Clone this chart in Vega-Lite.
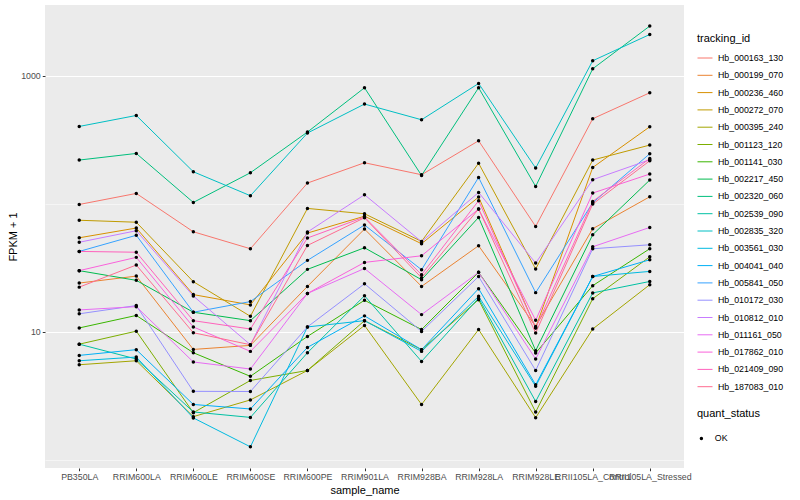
{
  "$schema": "https://vega.github.io/schema/vega-lite/v6.json",
  "width": 639,
  "height": 463,
  "autosize": {"type": "none"},
  "padding": {"left": 45, "top": 5, "right": 116, "bottom": 32},
  "background": "white",
  "config": {
    "view": {"fill": "#EBEBEB", "stroke": null},
    "font": "Liberation Sans",
    "axis": {
      "domain": false,
      "gridColor": "white",
      "tickColor": "#333333",
      "tickSize": 2.75,
      "labelColor": "#4D4D4D",
      "labelFontSize": 8.8,
      "labelPadding": 2,
      "titleFontSize": 11,
      "titleFontWeight": "normal",
      "titleColor": "black"
    },
    "legend": {
      "titleFontSize": 11,
      "titleFontWeight": "normal",
      "titleColor": "black",
      "labelFontSize": 8.8,
      "labelColor": "black"
    }
  },
  "data": {
    "values": [
      {"tracking_id":"Hb_000163_130","sample_name":"PB350LA","fpkm":98.7,"quant_status":"OK"},
      {"tracking_id":"Hb_000163_130","sample_name":"RRIM600LA","fpkm":120.4,"quant_status":"OK"},
      {"tracking_id":"Hb_000163_130","sample_name":"RRIM600LE","fpkm":60.4,"quant_status":"OK"},
      {"tracking_id":"Hb_000163_130","sample_name":"RRIM600SE","fpkm":44.5,"quant_status":"OK"},
      {"tracking_id":"Hb_000163_130","sample_name":"RRIM600PE","fpkm":145.1,"quant_status":"OK"},
      {"tracking_id":"Hb_000163_130","sample_name":"RRIM901LA","fpkm":209.1,"quant_status":"OK"},
      {"tracking_id":"Hb_000163_130","sample_name":"RRIM928BA","fpkm":168.5,"quant_status":"OK"},
      {"tracking_id":"Hb_000163_130","sample_name":"RRIM928LA","fpkm":310.6,"quant_status":"OK"},
      {"tracking_id":"Hb_000163_130","sample_name":"RRIM928LE","fpkm":66.5,"quant_status":"OK"},
      {"tracking_id":"Hb_000163_130","sample_name":"RRII105LA_Control","fpkm":461.5,"quant_status":"OK"},
      {"tracking_id":"Hb_000163_130","sample_name":"RRII105LA_Stressed","fpkm":736.4,"quant_status":"OK"},

      {"tracking_id":"Hb_000199_070","sample_name":"PB350LA","fpkm":24.0,"quant_status":"OK"},
      {"tracking_id":"Hb_000199_070","sample_name":"RRIM600LA","fpkm":27.2,"quant_status":"OK"},
      {"tracking_id":"Hb_000199_070","sample_name":"RRIM600LE","fpkm":7.27,"quant_status":"OK"},
      {"tracking_id":"Hb_000199_070","sample_name":"RRIM600SE","fpkm":7.82,"quant_status":"OK"},
      {"tracking_id":"Hb_000199_070","sample_name":"RRIM600PE","fpkm":22.6,"quant_status":"OK"},
      {"tracking_id":"Hb_000199_070","sample_name":"RRIM901LA","fpkm":63.4,"quant_status":"OK"},
      {"tracking_id":"Hb_000199_070","sample_name":"RRIM928BA","fpkm":22.6,"quant_status":"OK"},
      {"tracking_id":"Hb_000199_070","sample_name":"RRIM928LA","fpkm":47.0,"quant_status":"OK"},
      {"tracking_id":"Hb_000199_070","sample_name":"RRIM928LE","fpkm":11.0,"quant_status":"OK"},
      {"tracking_id":"Hb_000199_070","sample_name":"RRII105LA_Control","fpkm":63.8,"quant_status":"OK"},
      {"tracking_id":"Hb_000199_070","sample_name":"RRII105LA_Stressed","fpkm":113.4,"quant_status":"OK"},

      {"tracking_id":"Hb_000236_460","sample_name":"PB350LA","fpkm":54.2,"quant_status":"OK"},
      {"tracking_id":"Hb_000236_460","sample_name":"RRIM600LA","fpkm":64.6,"quant_status":"OK"},
      {"tracking_id":"Hb_000236_460","sample_name":"RRIM600LE","fpkm":19.5,"quant_status":"OK"},
      {"tracking_id":"Hb_000236_460","sample_name":"RRIM600SE","fpkm":16.2,"quant_status":"OK"},
      {"tracking_id":"Hb_000236_460","sample_name":"RRIM600PE","fpkm":59.0,"quant_status":"OK"},
      {"tracking_id":"Hb_000236_460","sample_name":"RRIM901LA","fpkm":79.9,"quant_status":"OK"},
      {"tracking_id":"Hb_000236_460","sample_name":"RRIM928BA","fpkm":48.7,"quant_status":"OK"},
      {"tracking_id":"Hb_000236_460","sample_name":"RRIM928LA","fpkm":112.8,"quant_status":"OK"},
      {"tracking_id":"Hb_000236_460","sample_name":"RRIM928LE","fpkm":10.75,"quant_status":"OK"},
      {"tracking_id":"Hb_000236_460","sample_name":"RRII105LA_Control","fpkm":192.1,"quant_status":"OK"},
      {"tracking_id":"Hb_000236_460","sample_name":"RRII105LA_Stressed","fpkm":399.6,"quant_status":"OK"},

      {"tracking_id":"Hb_000272_070","sample_name":"PB350LA","fpkm":74.3,"quant_status":"OK"},
      {"tracking_id":"Hb_000272_070","sample_name":"RRIM600LA","fpkm":71.7,"quant_status":"OK"},
      {"tracking_id":"Hb_000272_070","sample_name":"RRIM600LE","fpkm":24.6,"quant_status":"OK"},
      {"tracking_id":"Hb_000272_070","sample_name":"RRIM600SE","fpkm":13.2,"quant_status":"OK"},
      {"tracking_id":"Hb_000272_070","sample_name":"RRIM600PE","fpkm":91.9,"quant_status":"OK"},
      {"tracking_id":"Hb_000272_070","sample_name":"RRIM901LA","fpkm":83.5,"quant_status":"OK"},
      {"tracking_id":"Hb_000272_070","sample_name":"RRIM928BA","fpkm":50.8,"quant_status":"OK"},
      {"tracking_id":"Hb_000272_070","sample_name":"RRIM928LA","fpkm":207.2,"quant_status":"OK"},
      {"tracking_id":"Hb_000272_070","sample_name":"RRIM928LE","fpkm":30.9,"quant_status":"OK"},
      {"tracking_id":"Hb_000272_070","sample_name":"RRII105LA_Control","fpkm":219.5,"quant_status":"OK"},
      {"tracking_id":"Hb_000272_070","sample_name":"RRII105LA_Stressed","fpkm":287.4,"quant_status":"OK"},

      {"tracking_id":"Hb_000395_240","sample_name":"PB350LA","fpkm":5.52,"quant_status":"OK"},
      {"tracking_id":"Hb_000395_240","sample_name":"RRIM600LA","fpkm":5.93,"quant_status":"OK"},
      {"tracking_id":"Hb_000395_240","sample_name":"RRIM600LE","fpkm":2.17,"quant_status":"OK"},
      {"tracking_id":"Hb_000395_240","sample_name":"RRIM600SE","fpkm":2.93,"quant_status":"OK"},
      {"tracking_id":"Hb_000395_240","sample_name":"RRIM600PE","fpkm":4.98,"quant_status":"OK"},
      {"tracking_id":"Hb_000395_240","sample_name":"RRIM901LA","fpkm":11.2,"quant_status":"OK"},
      {"tracking_id":"Hb_000395_240","sample_name":"RRIM928BA","fpkm":2.70,"quant_status":"OK"},
      {"tracking_id":"Hb_000395_240","sample_name":"RRIM928LA","fpkm":10.4,"quant_status":"OK"},
      {"tracking_id":"Hb_000395_240","sample_name":"RRIM928LE","fpkm":2.13,"quant_status":"OK"},
      {"tracking_id":"Hb_000395_240","sample_name":"RRII105LA_Control","fpkm":10.5,"quant_status":"OK"},
      {"tracking_id":"Hb_000395_240","sample_name":"RRII105LA_Stressed","fpkm":23.3,"quant_status":"OK"},

      {"tracking_id":"Hb_001123_120","sample_name":"PB350LA","fpkm":7.99,"quant_status":"OK"},
      {"tracking_id":"Hb_001123_120","sample_name":"RRIM600LA","fpkm":10.1,"quant_status":"OK"},
      {"tracking_id":"Hb_001123_120","sample_name":"RRIM600LE","fpkm":2.33,"quant_status":"OK"},
      {"tracking_id":"Hb_001123_120","sample_name":"RRIM600SE","fpkm":4.16,"quant_status":"OK"},
      {"tracking_id":"Hb_001123_120","sample_name":"RRIM600PE","fpkm":4.98,"quant_status":"OK"},
      {"tracking_id":"Hb_001123_120","sample_name":"RRIM901LA","fpkm":12.2,"quant_status":"OK"},
      {"tracking_id":"Hb_001123_120","sample_name":"RRIM928BA","fpkm":7.24,"quant_status":"OK"},
      {"tracking_id":"Hb_001123_120","sample_name":"RRIM928LA","fpkm":17.8,"quant_status":"OK"},
      {"tracking_id":"Hb_001123_120","sample_name":"RRIM928LE","fpkm":2.36,"quant_status":"OK"},
      {"tracking_id":"Hb_001123_120","sample_name":"RRII105LA_Control","fpkm":18.1,"quant_status":"OK"},
      {"tracking_id":"Hb_001123_120","sample_name":"RRII105LA_Stressed","fpkm":38.5,"quant_status":"OK"},

      {"tracking_id":"Hb_001141_030","sample_name":"PB350LA","fpkm":10.7,"quant_status":"OK"},
      {"tracking_id":"Hb_001141_030","sample_name":"RRIM600LA","fpkm":13.4,"quant_status":"OK"},
      {"tracking_id":"Hb_001141_030","sample_name":"RRIM600LE","fpkm":6.85,"quant_status":"OK"},
      {"tracking_id":"Hb_001141_030","sample_name":"RRIM600SE","fpkm":4.48,"quant_status":"OK"},
      {"tracking_id":"Hb_001141_030","sample_name":"RRIM600PE","fpkm":9.19,"quant_status":"OK"},
      {"tracking_id":"Hb_001141_030","sample_name":"RRIM901LA","fpkm":17.6,"quant_status":"OK"},
      {"tracking_id":"Hb_001141_030","sample_name":"RRIM928BA","fpkm":10.4,"quant_status":"OK"},
      {"tracking_id":"Hb_001141_030","sample_name":"RRIM928LA","fpkm":29.1,"quant_status":"OK"},
      {"tracking_id":"Hb_001141_030","sample_name":"RRIM928LE","fpkm":6.82,"quant_status":"OK"},
      {"tracking_id":"Hb_001141_030","sample_name":"RRII105LA_Control","fpkm":22.9,"quant_status":"OK"},
      {"tracking_id":"Hb_001141_030","sample_name":"RRII105LA_Stressed","fpkm":44.5,"quant_status":"OK"},

      {"tracking_id":"Hb_002217_450","sample_name":"PB350LA","fpkm":30.0,"quant_status":"OK"},
      {"tracking_id":"Hb_002217_450","sample_name":"RRIM600LA","fpkm":25.2,"quant_status":"OK"},
      {"tracking_id":"Hb_002217_450","sample_name":"RRIM600LE","fpkm":14.2,"quant_status":"OK"},
      {"tracking_id":"Hb_002217_450","sample_name":"RRIM600SE","fpkm":12.2,"quant_status":"OK"},
      {"tracking_id":"Hb_002217_450","sample_name":"RRIM600PE","fpkm":30.7,"quant_status":"OK"},
      {"tracking_id":"Hb_002217_450","sample_name":"RRIM901LA","fpkm":45.3,"quant_status":"OK"},
      {"tracking_id":"Hb_002217_450","sample_name":"RRIM928BA","fpkm":25.5,"quant_status":"OK"},
      {"tracking_id":"Hb_002217_450","sample_name":"RRIM928LA","fpkm":78.2,"quant_status":"OK"},
      {"tracking_id":"Hb_002217_450","sample_name":"RRIM928LE","fpkm":7.11,"quant_status":"OK"},
      {"tracking_id":"Hb_002217_450","sample_name":"RRII105LA_Control","fpkm":57.3,"quant_status":"OK"},
      {"tracking_id":"Hb_002217_450","sample_name":"RRII105LA_Stressed","fpkm":153.2,"quant_status":"OK"},

      {"tracking_id":"Hb_002320_060","sample_name":"PB350LA","fpkm":219.5,"quant_status":"OK"},
      {"tracking_id":"Hb_002320_060","sample_name":"RRIM600LA","fpkm":247.2,"quant_status":"OK"},
      {"tracking_id":"Hb_002320_060","sample_name":"RRIM600LE","fpkm":102.4,"quant_status":"OK"},
      {"tracking_id":"Hb_002320_060","sample_name":"RRIM600SE","fpkm":174.7,"quant_status":"OK"},
      {"tracking_id":"Hb_002320_060","sample_name":"RRIM600PE","fpkm":363.3,"quant_status":"OK"},
      {"tracking_id":"Hb_002320_060","sample_name":"RRIM901LA","fpkm":805.8,"quant_status":"OK"},
      {"tracking_id":"Hb_002320_060","sample_name":"RRIM928BA","fpkm":166.4,"quant_status":"OK"},
      {"tracking_id":"Hb_002320_060","sample_name":"RRIM928LA","fpkm":805.8,"quant_status":"OK"},
      {"tracking_id":"Hb_002320_060","sample_name":"RRIM928LE","fpkm":136.5,"quant_status":"OK"},
      {"tracking_id":"Hb_002320_060","sample_name":"RRII105LA_Control","fpkm":1134,"quant_status":"OK"},
      {"tracking_id":"Hb_002320_060","sample_name":"RRII105LA_Stressed","fpkm":2446,"quant_status":"OK"},

      {"tracking_id":"Hb_002539_090","sample_name":"PB350LA","fpkm":7.99,"quant_status":"OK"},
      {"tracking_id":"Hb_002539_090","sample_name":"RRIM600LA","fpkm":6.12,"quant_status":"OK"},
      {"tracking_id":"Hb_002539_090","sample_name":"RRIM600LE","fpkm":2.36,"quant_status":"OK"},
      {"tracking_id":"Hb_002539_090","sample_name":"RRIM600SE","fpkm":2.14,"quant_status":"OK"},
      {"tracking_id":"Hb_002539_090","sample_name":"RRIM600PE","fpkm":6.85,"quant_status":"OK"},
      {"tracking_id":"Hb_002539_090","sample_name":"RRIM901LA","fpkm":19.1,"quant_status":"OK"},
      {"tracking_id":"Hb_002539_090","sample_name":"RRIM928BA","fpkm":5.86,"quant_status":"OK"},
      {"tracking_id":"Hb_002539_090","sample_name":"RRIM928LA","fpkm":18.3,"quant_status":"OK"},
      {"tracking_id":"Hb_002539_090","sample_name":"RRIM928LE","fpkm":2.85,"quant_status":"OK"},
      {"tracking_id":"Hb_002539_090","sample_name":"RRII105LA_Control","fpkm":20.1,"quant_status":"OK"},
      {"tracking_id":"Hb_002539_090","sample_name":"RRII105LA_Stressed","fpkm":24.7,"quant_status":"OK"},

      {"tracking_id":"Hb_002835_320","sample_name":"PB350LA","fpkm":401.8,"quant_status":"OK"},
      {"tracking_id":"Hb_002835_320","sample_name":"RRIM600LA","fpkm":489.6,"quant_status":"OK"},
      {"tracking_id":"Hb_002835_320","sample_name":"RRIM600LE","fpkm":177.8,"quant_status":"OK"},
      {"tracking_id":"Hb_002835_320","sample_name":"RRIM600SE","fpkm":115.5,"quant_status":"OK"},
      {"tracking_id":"Hb_002835_320","sample_name":"RRIM600PE","fpkm":356.8,"quant_status":"OK"},
      {"tracking_id":"Hb_002835_320","sample_name":"RRIM901LA","fpkm":601.1,"quant_status":"OK"},
      {"tracking_id":"Hb_002835_320","sample_name":"RRIM928BA","fpkm":453.2,"quant_status":"OK"},
      {"tracking_id":"Hb_002835_320","sample_name":"RRIM928LA","fpkm":870.6,"quant_status":"OK"},
      {"tracking_id":"Hb_002835_320","sample_name":"RRIM928LE","fpkm":190.1,"quant_status":"OK"},
      {"tracking_id":"Hb_002835_320","sample_name":"RRII105LA_Control","fpkm":1310,"quant_status":"OK"},
      {"tracking_id":"Hb_002835_320","sample_name":"RRII105LA_Stressed","fpkm":2102,"quant_status":"OK"},

      {"tracking_id":"Hb_003561_030","sample_name":"PB350LA","fpkm":5.93,"quant_status":"OK"},
      {"tracking_id":"Hb_003561_030","sample_name":"RRIM600LA","fpkm":6.34,"quant_status":"OK"},
      {"tracking_id":"Hb_003561_030","sample_name":"RRIM600LE","fpkm":2.12,"quant_status":"OK"},
      {"tracking_id":"Hb_003561_030","sample_name":"RRIM600SE","fpkm":1.26,"quant_status":"OK"},
      {"tracking_id":"Hb_003561_030","sample_name":"RRIM600PE","fpkm":10.9,"quant_status":"OK"},
      {"tracking_id":"Hb_003561_030","sample_name":"RRIM901LA","fpkm":12.2,"quant_status":"OK"},
      {"tracking_id":"Hb_003561_030","sample_name":"RRIM928BA","fpkm":7.02,"quant_status":"OK"},
      {"tracking_id":"Hb_003561_030","sample_name":"RRIM928LA","fpkm":18.9,"quant_status":"OK"},
      {"tracking_id":"Hb_003561_030","sample_name":"RRIM928LE","fpkm":3.74,"quant_status":"OK"},
      {"tracking_id":"Hb_003561_030","sample_name":"RRII105LA_Control","fpkm":27.0,"quant_status":"OK"},
      {"tracking_id":"Hb_003561_030","sample_name":"RRII105LA_Stressed","fpkm":29.6,"quant_status":"OK"},

      {"tracking_id":"Hb_004041_040","sample_name":"PB350LA","fpkm":6.53,"quant_status":"OK"},
      {"tracking_id":"Hb_004041_040","sample_name":"RRIM600LA","fpkm":7.24,"quant_status":"OK"},
      {"tracking_id":"Hb_004041_040","sample_name":"RRIM600LE","fpkm":2.70,"quant_status":"OK"},
      {"tracking_id":"Hb_004041_040","sample_name":"RRIM600SE","fpkm":2.49,"quant_status":"OK"},
      {"tracking_id":"Hb_004041_040","sample_name":"RRIM600PE","fpkm":7.54,"quant_status":"OK"},
      {"tracking_id":"Hb_004041_040","sample_name":"RRIM901LA","fpkm":13.3,"quant_status":"OK"},
      {"tracking_id":"Hb_004041_040","sample_name":"RRIM928BA","fpkm":7.24,"quant_status":"OK"},
      {"tracking_id":"Hb_004041_040","sample_name":"RRIM928LA","fpkm":21.7,"quant_status":"OK"},
      {"tracking_id":"Hb_004041_040","sample_name":"RRIM928LE","fpkm":3.85,"quant_status":"OK"},
      {"tracking_id":"Hb_004041_040","sample_name":"RRII105LA_Control","fpkm":27.0,"quant_status":"OK"},
      {"tracking_id":"Hb_004041_040","sample_name":"RRII105LA_Stressed","fpkm":36.5,"quant_status":"OK"},

      {"tracking_id":"Hb_005841_050","sample_name":"PB350LA","fpkm":42.4,"quant_status":"OK"},
      {"tracking_id":"Hb_005841_050","sample_name":"RRIM600LA","fpkm":56.7,"quant_status":"OK"},
      {"tracking_id":"Hb_005841_050","sample_name":"RRIM600LE","fpkm":14.2,"quant_status":"OK"},
      {"tracking_id":"Hb_005841_050","sample_name":"RRIM600SE","fpkm":17.2,"quant_status":"OK"},
      {"tracking_id":"Hb_005841_050","sample_name":"RRIM600PE","fpkm":36.1,"quant_status":"OK"},
      {"tracking_id":"Hb_005841_050","sample_name":"RRIM901LA","fpkm":68.2,"quant_status":"OK"},
      {"tracking_id":"Hb_005841_050","sample_name":"RRIM928BA","fpkm":30.5,"quant_status":"OK"},
      {"tracking_id":"Hb_005841_050","sample_name":"RRIM928LA","fpkm":160.5,"quant_status":"OK"},
      {"tracking_id":"Hb_005841_050","sample_name":"RRIM928LE","fpkm":20.2,"quant_status":"OK"},
      {"tracking_id":"Hb_005841_050","sample_name":"RRII105LA_Control","fpkm":101.8,"quant_status":"OK"},
      {"tracking_id":"Hb_005841_050","sample_name":"RRII105LA_Stressed","fpkm":245.9,"quant_status":"OK"},

      {"tracking_id":"Hb_010172_030","sample_name":"PB350LA","fpkm":13.8,"quant_status":"OK"},
      {"tracking_id":"Hb_010172_030","sample_name":"RRIM600LA","fpkm":16.0,"quant_status":"OK"},
      {"tracking_id":"Hb_010172_030","sample_name":"RRIM600LE","fpkm":3.42,"quant_status":"OK"},
      {"tracking_id":"Hb_010172_030","sample_name":"RRIM600SE","fpkm":3.41,"quant_status":"OK"},
      {"tracking_id":"Hb_010172_030","sample_name":"RRIM600PE","fpkm":10.9,"quant_status":"OK"},
      {"tracking_id":"Hb_010172_030","sample_name":"RRIM901LA","fpkm":23.7,"quant_status":"OK"},
      {"tracking_id":"Hb_010172_030","sample_name":"RRIM928BA","fpkm":10.05,"quant_status":"OK"},
      {"tracking_id":"Hb_010172_030","sample_name":"RRIM928LA","fpkm":27.0,"quant_status":"OK"},
      {"tracking_id":"Hb_010172_030","sample_name":"RRIM928LE","fpkm":4.98,"quant_status":"OK"},
      {"tracking_id":"Hb_010172_030","sample_name":"RRII105LA_Control","fpkm":44.5,"quant_status":"OK"},
      {"tracking_id":"Hb_010172_030","sample_name":"RRII105LA_Stressed","fpkm":47.8,"quant_status":"OK"},

      {"tracking_id":"Hb_010812_010","sample_name":"PB350LA","fpkm":50.0,"quant_status":"OK"},
      {"tracking_id":"Hb_010812_010","sample_name":"RRIM600LA","fpkm":61.5,"quant_status":"OK"},
      {"tracking_id":"Hb_010812_010","sample_name":"RRIM600LE","fpkm":19.0,"quant_status":"OK"},
      {"tracking_id":"Hb_010812_010","sample_name":"RRIM600SE","fpkm":7.91,"quant_status":"OK"},
      {"tracking_id":"Hb_010812_010","sample_name":"RRIM600PE","fpkm":60.1,"quant_status":"OK"},
      {"tracking_id":"Hb_010812_010","sample_name":"RRIM901LA","fpkm":117.6,"quant_status":"OK"},
      {"tracking_id":"Hb_010812_010","sample_name":"RRIM928BA","fpkm":50.5,"quant_status":"OK"},
      {"tracking_id":"Hb_010812_010","sample_name":"RRIM928LA","fpkm":122.6,"quant_status":"OK"},
      {"tracking_id":"Hb_010812_010","sample_name":"RRIM928LE","fpkm":34.4,"quant_status":"OK"},
      {"tracking_id":"Hb_010812_010","sample_name":"RRII105LA_Control","fpkm":154.0,"quant_status":"OK"},
      {"tracking_id":"Hb_010812_010","sample_name":"RRII105LA_Stressed","fpkm":220.7,"quant_status":"OK"},

      {"tracking_id":"Hb_011161_050","sample_name":"PB350LA","fpkm":14.8,"quant_status":"OK"},
      {"tracking_id":"Hb_011161_050","sample_name":"RRIM600LA","fpkm":15.7,"quant_status":"OK"},
      {"tracking_id":"Hb_011161_050","sample_name":"RRIM600LE","fpkm":5.80,"quant_status":"OK"},
      {"tracking_id":"Hb_011161_050","sample_name":"RRIM600SE","fpkm":5.11,"quant_status":"OK"},
      {"tracking_id":"Hb_011161_050","sample_name":"RRIM600PE","fpkm":19.9,"quant_status":"OK"},
      {"tracking_id":"Hb_011161_050","sample_name":"RRIM901LA","fpkm":31.2,"quant_status":"OK"},
      {"tracking_id":"Hb_011161_050","sample_name":"RRIM928BA","fpkm":13.6,"quant_status":"OK"},
      {"tracking_id":"Hb_011161_050","sample_name":"RRIM928LA","fpkm":29.1,"quant_status":"OK"},
      {"tracking_id":"Hb_011161_050","sample_name":"RRIM928LE","fpkm":6.12,"quant_status":"OK"},
      {"tracking_id":"Hb_011161_050","sample_name":"RRII105LA_Control","fpkm":46.1,"quant_status":"OK"},
      {"tracking_id":"Hb_011161_050","sample_name":"RRII105LA_Stressed","fpkm":65.3,"quant_status":"OK"},

      {"tracking_id":"Hb_017862_010","sample_name":"PB350LA","fpkm":30.0,"quant_status":"OK"},
      {"tracking_id":"Hb_017862_010","sample_name":"RRIM600LA","fpkm":38.1,"quant_status":"OK"},
      {"tracking_id":"Hb_017862_010","sample_name":"RRIM600LE","fpkm":10.9,"quant_status":"OK"},
      {"tracking_id":"Hb_017862_010","sample_name":"RRIM600SE","fpkm":7.02,"quant_status":"OK"},
      {"tracking_id":"Hb_017862_010","sample_name":"RRIM600PE","fpkm":19.9,"quant_status":"OK"},
      {"tracking_id":"Hb_017862_010","sample_name":"RRIM901LA","fpkm":34.8,"quant_status":"OK"},
      {"tracking_id":"Hb_017862_010","sample_name":"RRIM928BA","fpkm":39.2,"quant_status":"OK"},
      {"tracking_id":"Hb_017862_010","sample_name":"RRIM928LA","fpkm":90.9,"quant_status":"OK"},
      {"tracking_id":"Hb_017862_010","sample_name":"RRIM928LE","fpkm":12.3,"quant_status":"OK"},
      {"tracking_id":"Hb_017862_010","sample_name":"RRII105LA_Control","fpkm":121.2,"quant_status":"OK"},
      {"tracking_id":"Hb_017862_010","sample_name":"RRII105LA_Stressed","fpkm":170.6,"quant_status":"OK"},

      {"tracking_id":"Hb_021409_090","sample_name":"PB350LA","fpkm":42.4,"quant_status":"OK"},
      {"tracking_id":"Hb_021409_090","sample_name":"RRIM600LA","fpkm":41.8,"quant_status":"OK"},
      {"tracking_id":"Hb_021409_090","sample_name":"RRIM600LE","fpkm":12.2,"quant_status":"OK"},
      {"tracking_id":"Hb_021409_090","sample_name":"RRIM600SE","fpkm":10.5,"quant_status":"OK"},
      {"tracking_id":"Hb_021409_090","sample_name":"RRIM600PE","fpkm":54.0,"quant_status":"OK"},
      {"tracking_id":"Hb_021409_090","sample_name":"RRIM901LA","fpkm":78.7,"quant_status":"OK"},
      {"tracking_id":"Hb_021409_090","sample_name":"RRIM928BA","fpkm":27.9,"quant_status":"OK"},
      {"tracking_id":"Hb_021409_090","sample_name":"RRIM928LA","fpkm":105.5,"quant_status":"OK"},
      {"tracking_id":"Hb_021409_090","sample_name":"RRIM928LE","fpkm":10.7,"quant_status":"OK"},
      {"tracking_id":"Hb_021409_090","sample_name":"RRII105LA_Control","fpkm":104.2,"quant_status":"OK"},
      {"tracking_id":"Hb_021409_090","sample_name":"RRII105LA_Stressed","fpkm":225.9,"quant_status":"OK"},

      {"tracking_id":"Hb_187083_010","sample_name":"PB350LA","fpkm":22.3,"quant_status":"OK"},
      {"tracking_id":"Hb_187083_010","sample_name":"RRIM600LA","fpkm":33.2,"quant_status":"OK"},
      {"tracking_id":"Hb_187083_010","sample_name":"RRIM600LE","fpkm":9.82,"quant_status":"OK"},
      {"tracking_id":"Hb_187083_010","sample_name":"RRIM600SE","fpkm":7.91,"quant_status":"OK"},
      {"tracking_id":"Hb_187083_010","sample_name":"RRIM600PE","fpkm":47.2,"quant_status":"OK"},
      {"tracking_id":"Hb_187083_010","sample_name":"RRIM901LA","fpkm":77.7,"quant_status":"OK"},
      {"tracking_id":"Hb_187083_010","sample_name":"RRIM928BA","fpkm":26.4,"quant_status":"OK"},
      {"tracking_id":"Hb_187083_010","sample_name":"RRIM928LA","fpkm":90.9,"quant_status":"OK"},
      {"tracking_id":"Hb_187083_010","sample_name":"RRIM928LE","fpkm":9.77,"quant_status":"OK"},
      {"tracking_id":"Hb_187083_010","sample_name":"RRII105LA_Control","fpkm":99.5,"quant_status":"OK"},
      {"tracking_id":"Hb_187083_010","sample_name":"RRII105LA_Stressed","fpkm":216.7,"quant_status":"OK"}
    ]
  },
  "encoding": {
    "x": {
      "field": "sample_name",
      "type": "nominal",
      "sort": ["PB350LA","RRIM600LA","RRIM600LE","RRIM600SE","RRIM600PE","RRIM901LA","RRIM928BA","RRIM928LA","RRIM928LE","RRII105LA_Control","RRII105LA_Stressed"],
      "scale": {"type": "point", "padding": 0.6},
      "axis": {"title": "sample_name", "labelAngle": 0, "labelOverlap": false, "labelBound": false, "labelLimit": 300, "titlePadding": 3, "gridWidth": 1.07}
    },
    "y": {
      "field": "fpkm",
      "type": "quantitative",
      "scale": {"type": "log", "domain": [0.861, 3573], "nice": false, "zero": false},
      "axis": {
        "title": "FPKM + 1",
        "values": [1, 10, 100, 1000],
        "labelExpr": "datum.value == 10 ? '10' : (datum.value == 1000 ? '1000' : '')",
        "gridWidth": {"condition": {"test": "datum.value == 10 || datum.value == 1000", "value": 1.07}, "value": 0.53},
        "tickOpacity": {"condition": {"test": "datum.value == 10 || datum.value == 1000", "value": 1}, "value": 0},
        "titlePadding": 2
      }
    }
  },
  "layer": [
    {
      "mark": {"type": "line", "strokeWidth": 1},
      "encoding": {
        "color": {
          "field": "tracking_id",
          "type": "nominal",
          "scale": {
            "domain": ["Hb_000163_130","Hb_000199_070","Hb_000236_460","Hb_000272_070","Hb_000395_240","Hb_001123_120","Hb_001141_030","Hb_002217_450","Hb_002320_060","Hb_002539_090","Hb_002835_320","Hb_003561_030","Hb_004041_040","Hb_005841_050","Hb_010172_030","Hb_010812_010","Hb_011161_050","Hb_017862_010","Hb_021409_090","Hb_187083_010"],
            "range": ["#F8766D","#EA8331","#D89000","#C09B00","#A3A500","#7CAE00","#39B600","#00BB4E","#00BF7D","#00C1A3","#00BFC4","#00BAE0","#00B0F6","#35A2FF","#9590FF","#C77CFF","#E76BF3","#FA62DB","#FF62BC","#FF6C91"]
          },
          "legend": {
            "title": "tracking_id",
            "orient": "none",
            "legendX": 652,
            "legendY": 28,
            "symbolType": "stroke",
            "symbolSize": 225,
            "symbolStrokeWidth": 1,
            "rowPadding": 4.3,
            "labelOffset": 5,
            "titlePadding": 6
          }
        }
      }
    },
    {
      "mark": {"type": "point", "filled": true, "color": "black", "opacity": 1, "size": 12},
      "encoding": {
        "shape": {
          "field": "quant_status",
          "type": "nominal",
          "scale": {"range": ["circle"]},
          "legend": {
            "title": "quant_status",
            "orient": "none",
            "legendX": 652,
            "legendY": 403,
            "symbolFillColor": "black",
            "symbolStrokeColor": "black",
            "symbolSize": 12,
            "labelOffset": 9,
            "titlePadding": 15
          }
        }
      }
    }
  ]
}
